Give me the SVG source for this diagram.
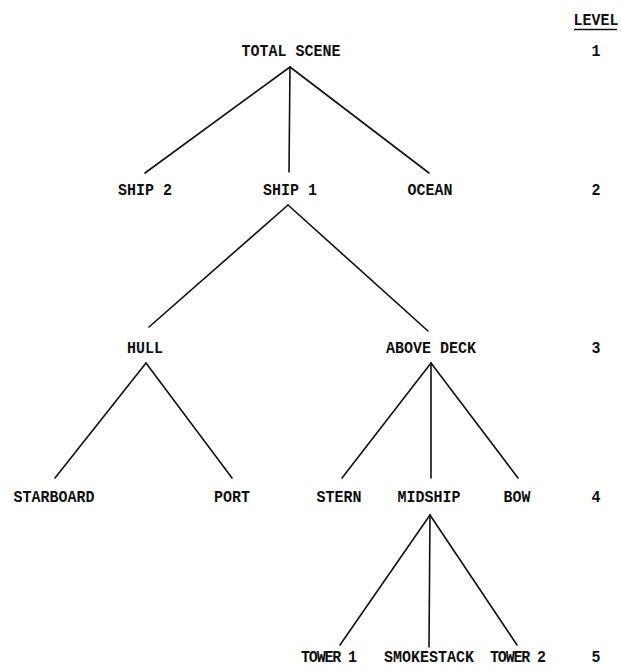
<svg xmlns="http://www.w3.org/2000/svg" width="621" height="672" viewBox="0 0 621 672">
<style>
text{font-family:"Liberation Mono","DejaVu Sans Mono",monospace;font-size:15px;font-weight:bold;fill:#111;text-anchor:middle}
.c line{stroke:#111;stroke-width:1.6;stroke-linecap:round}
</style>
<rect width="621" height="672" fill="#fff"/>
<g id="connectors" class="c">
<line x1="290" y1="67" x2="145" y2="173"/>
<line x1="290" y1="67" x2="289" y2="172"/>
<line x1="290" y1="67" x2="429" y2="173"/>
<line x1="288" y1="205" x2="149" y2="327"/>
<line x1="288" y1="205" x2="428" y2="331"/>
<line x1="146" y1="363" x2="55" y2="478"/>
<line x1="146" y1="363" x2="232" y2="478"/>
<line x1="431" y1="363" x2="342" y2="478"/>
<line x1="431" y1="363" x2="431" y2="478"/>
<line x1="431" y1="363" x2="518" y2="478"/>
<line x1="430" y1="515" x2="340" y2="645"/>
<line x1="430" y1="515" x2="429" y2="647"/>
<line x1="430" y1="515" x2="517" y2="645"/>
</g>
<g id="total-scene"><text transform="translate(291,56) scale(1,1.15)">TOTAL SCENE</text></g>
<g id="ship2"><text transform="translate(145,195) scale(1,1.15)">SHIP 2</text></g>
<g id="ship1"><text transform="translate(290,195) scale(1,1.15)">SHIP 1</text></g>
<g id="ocean"><text transform="translate(430,195) scale(1,1.15)">OCEAN</text></g>
<g id="hull"><text transform="translate(145,353) scale(1,1.15)">HULL</text></g>
<g id="above-deck"><text transform="translate(431,353) scale(1,1.15)">ABOVE DECK</text></g>
<g id="starboard"><text transform="translate(54,502) scale(1,1.15)">STARBOARD</text></g>
<g id="port"><text transform="translate(232,502) scale(1,1.15)">PORT</text></g>
<g id="stern"><text transform="translate(339,502) scale(1,1.15)">STERN</text></g>
<g id="midship"><text transform="translate(429,502) scale(1,1.15)">MIDSHIP</text></g>
<g id="bow"><text transform="translate(517,502) scale(1,1.15)">BOW</text></g>
<g id="tower1"><text transform="translate(329,662) scale(1,1.15)" textLength="56" lengthAdjust="spacing">TOWER 1</text></g>
<g id="smokestack"><text transform="translate(429,662) scale(1,1.15)">SMOKESTACK</text></g>
<g id="tower2"><text transform="translate(518,662) scale(1,1.15)" textLength="56" lengthAdjust="spacing">TOWER 2</text></g>
<g id="levels">
<text transform="translate(596,25) scale(1,1.15)">LEVEL</text>
<line x1="574" y1="29.5" x2="617" y2="29.5" stroke="#111" stroke-width="1.6"/>
<text transform="translate(596,56) scale(1,1.15)">1</text>
<text transform="translate(596,195) scale(1,1.15)">2</text>
<text transform="translate(596,353) scale(1,1.15)">3</text>
<text transform="translate(596,502) scale(1,1.15)">4</text>
<text transform="translate(596,662) scale(1,1.15)">5</text>
</g>
</svg>
